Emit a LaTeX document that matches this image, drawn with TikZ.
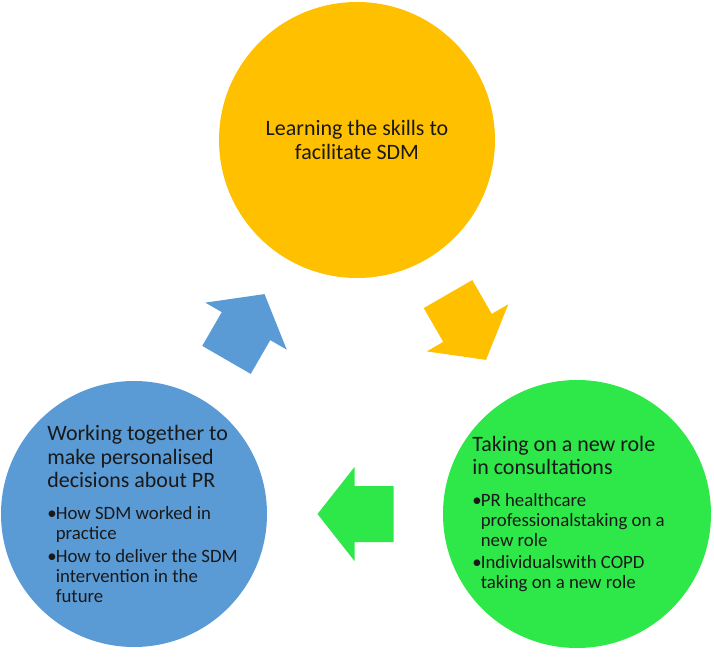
\documentclass[tikz,border=0pt]{standalone}
\usepackage{fontspec}
\setmainfont{Carlito}
\usepackage{xcolor}
\usepackage{tikz}
\usetikzlibrary{calc}

\definecolor{skillgold}{HTML}{FFC000}
\definecolor{workblue}{HTML}{5B9BD5}
\definecolor{rolegreen}{HTML}{2EE84A}

% bullet line with hanging indent
\newcommand{\bpoint}[1]{\par\vspace{1.5pt}\hangindent=0.17cm\hangafter=1\noindent\makebox[0.17cm][l]{\textbullet}#1}

\begin{document}
\begin{tikzpicture}[
    stage/.style={circle, inner sep=0pt, text=black!90},
    heading/.style={font=\fontsize{12.5}{13.4}\selectfont},
    textblock/.style={anchor=west, inner sep=0pt, align=flush left, text=black!90, font=\fontsize{12.5}{13.4}\selectfont},
    cycarrow/.pic={\fill (-0.76,-0.56) -- (0.02,-0.56) -- (0.02,-0.94) -- (0.76,0) -- (0.02,0.94) -- (0.02,0.56) -- (-0.76,0.56) -- cycle;}
]
    \useasboundingbox (0,0) rectangle (14.28,13.12);

    \node [stage, heading, fill=skillgold, minimum size=5.52cm, align=center] (skills) at (7.14,10.32) {Learning the skills to\\facilitate SDM};
    \node [stage, fill=rolegreen, minimum size=5.36cm] (role) at (11.54,2.84) {};
    \node [stage, fill=workblue, minimum size=5.32cm] (work) at (2.68,2.84) {};

    \node [textblock, text width=4.4cm] (worktext) at ($(work.center)+(-1.74,0)$) {%
        Working together to\\make personalised\\decisions about PR\par
        \vspace{5pt}\fontsize{10.7}{11.4}\selectfont
        \bpoint{How SDM worked in\newline practice}
        \bpoint{How to deliver the SDM\newline intervention in the\newline future}\par};
    \node [textblock, text width=4.4cm] (roletext) at ($(role.center)+(-2.1,0)$) {%
        Taking on a new role\\in consultations\par
        \vspace{5pt}\fontsize{10.7}{11.4}\selectfont
        \bpoint{PR healthcare\newline professionalstaking on a\newline new role}
        \bpoint{Individualswith COPD\newline taking on a new role}\par};

    % cycle arrows
    \pic [skillgold, rotate=-60] at ($(skills)!0.5!(role)$) {cycarrow};
    \pic [rolegreen, rotate=180] at ($(role)!0.5!(work)$) {cycarrow};
    \pic [workblue, rotate=60] at ($(work)!0.5!(skills)$) {cycarrow};
\end{tikzpicture}
\end{document}
